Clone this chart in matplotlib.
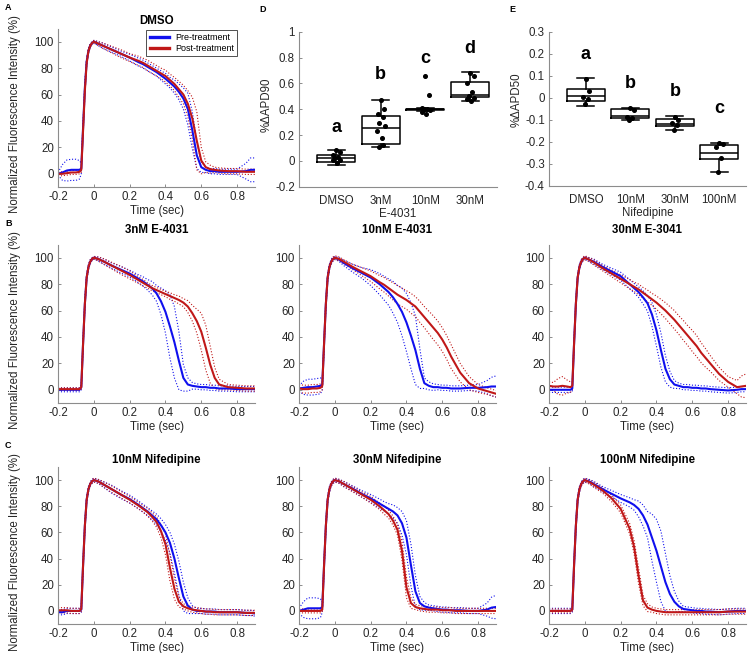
import numpy as np
import matplotlib
matplotlib.use("Agg")
import matplotlib.pyplot as plt

plt.rcParams['font.family'] = ['Liberation Sans', 'DejaVu Sans']
plt.rcParams['axes.unicode_minus'] = False

# ---------------- data: optical action potential traces ----------------
time_s = [-0.2, -0.175, -0.15, -0.125, -0.1, -0.08, -0.07,
          -0.06, -0.05, -0.04, -0.03, -0.02, -0.01, 0.0,
          0.025, 0.05, 0.1, 0.15, 0.2, 0.25, 0.275, 0.3, 0.325, 0.35, 0.375, 0.4,
          0.425, 0.45, 0.475, 0.5, 0.525, 0.55, 0.575, 0.6, 0.625, 0.65, 0.675, 0.7, 0.75, 0.8, 0.85, 0.875, 0.9]

# DMSO
dmso_pre_mean = [0, 1, 2.5, 3, 3, 3, 4,
                 35, 65, 85, 93, 97, 99, 100,
                 98.5, 97, 94, 91, 88, 84.5, 83, 81, 79, 77, 74.5, 72,
                 69, 66, 62, 57, 49, 33, 14, 5, 3, 2, 2, 1.5, 1.5, 1.5, 2, 3, 3]
dmso_pre_sd = [1, 6, 8, 8, 8, 7, 4,
               4, 4, 3, 2, 1.5, 1, 1,
               1.5, 2, 2, 2, 2.5, 3, 3, 3, 3, 3, 3.5, 4,
               4, 5, 6, 8, 12, 14, 10, 4, 2, 2, 2, 2, 2, 2, 6, 9, 9]
dmso_post_mean = [0, 0, 0.5, 1, 1, 1.5, 3,
                  33, 63, 84, 93, 97, 99, 100,
                  98.5, 97, 94, 91, 88, 85.5, 84, 82, 80, 78, 76, 74,
                  71, 68, 64, 60, 53, 42, 25, 10, 5, 3.5, 3, 2.5, 2, 2, 1.5, 1.5, 1.5]
dmso_post_sd = [1.5, 1.5, 1.5, 1.5, 1.5, 1.5, 2,
                4, 4, 3, 2, 1.5, 1, 1,
                1.5, 2, 2.5, 3, 3, 3.5, 3.5, 4, 4, 4, 4, 4.5,
                4.5, 5, 6, 7, 10, 16, 22, 10, 4, 3, 2, 2, 2, 2, 2, 2, 2]

# 3nM E-4031
e3_pre_mean = [0, 0, 0, 0, 0, 0, 2,
               35, 65, 85, 93, 97, 99, 100,
               99, 97.5, 94, 91, 88, 84, 82, 79.5, 77, 73, 67, 59,
               48, 36, 22, 9, 4, 3, 2.5, 2, 2, 1.5, 1.5, 1, 1, 0.5, 0.5, 0.5, 0.5]
e3_pre_sd = [1.5, 1.5, 1.5, 1.5, 1.5, 1.5, 2,
             3, 3, 2, 2, 1.5, 1, 1,
             1.5, 2, 2, 2.5, 2.5, 3, 3.5, 4, 5, 6, 10, 16,
             24, 27, 22, 10, 5, 2.5, 2, 2, 2, 2, 2, 2, 2, 2, 2, 2, 2]
e3_post_mean = [0.5, 0.5, 0.5, 0.5, 0.5, 0.5, 2,
                35, 65, 85, 93, 97, 99, 100,
                99, 97.5, 94, 90.5, 87, 83, 81, 79, 77, 75.5, 74, 72.5,
                71, 69.5, 68, 66, 63, 58, 52, 44, 32, 19, 9, 4, 2, 1.5, 1, 1, 1]
e3_post_sd = [1, 1, 1, 1, 1, 1, 2,
              3, 3, 2, 2, 1.5, 1, 1,
              1.5, 2, 2.5, 3, 3, 2.5, 2.5, 2, 2, 2, 2, 2,
              2.5, 2.5, 3, 3, 4.5, 6, 9, 14, 17, 14, 8, 4, 2, 2, 2, 2, 2]

# 10nM E-4031
e10_pre_mean = [1, 1.5, 2, 2, 2.5, 3, 4,
                35, 65, 85, 93, 97, 99, 100,
                98.5, 96, 92, 88.5, 85, 80, 77, 74, 70, 65, 59, 51,
                41, 30, 16, 5, 3, 2, 2, 1.5, 1.5, 1, 1, 1, 1.5, 1.5, 2, 2.5, 2.5]
e10_pre_sd = [2, 5, 6, 6, 6, 6, 4,
              3, 3, 3, 2, 2, 1.5, 1,
              1.5, 2, 3, 4, 6, 8, 9, 10, 12, 14, 18, 22,
              25, 26, 15, 4, 3, 2.5, 2, 2, 2, 2, 2, 2, 2, 2.5, 5, 7, 8]
e10_post_mean = [1, 0.5, 0.5, 1, 1, 1.5, 3,
                 35, 65, 85, 93, 97, 99, 100,
                 99, 97, 93, 89.5, 86, 81.5, 79.5, 77, 74.5, 72, 70, 68,
                 65.5, 63, 59, 55, 51, 47, 43, 38, 32, 25, 19, 13, 5, 1, -1, -2, -3]
e10_post_sd = [3, 3, 3, 3, 3, 3, 3,
               3, 3, 2, 2, 1.5, 1.5, 1.5,
               1.5, 1.5, 2, 3, 4, 5, 5.5, 6, 6.5, 7, 7, 7,
               7.5, 7.5, 8, 8, 8.5, 9, 9, 9, 9, 9, 8, 7, 5, 3, 2.5, 2.5, 2.5]

# 30nM E-4031
e30_pre_mean = [0, 0, 0, 0, 0, 0, 1,
                35, 65, 85, 93, 97, 99, 100,
                98.5, 97, 93, 89.5, 86, 80, 77, 74, 70, 65.5, 57, 45,
                30, 16, 8, 4, 3, 2, 2, 1.5, 1.5, 1, 1, 0.5, 0, -0.5, 0, 0.5, 0.5]
e30_pre_sd = [2, 2, 2, 2, 2, 2, 2,
              3, 3, 2, 2, 1.5, 1, 1,
              1.5, 2, 2, 2.5, 3, 3.5, 3.5, 4, 5, 6, 9, 12,
              13, 10, 6, 3, 2, 2, 2, 2, 2, 2, 2, 2, 2, 2, 2, 2, 2]
e30_post_mean = [3, 2.5, 2.5, 3, 2.5, 2, 3,
                 35, 65, 85, 93, 97, 99, 100,
                 98.5, 96.5, 92, 88, 84, 80, 78, 76, 73.5, 71, 68.5, 66,
                 63, 60, 56.5, 53, 49, 45, 41, 37, 33, 28, 24, 20, 12, 6, 2, 2.5, 3]
e30_post_sd = [3, 3, 6, 7, 5, 4, 3,
               3, 3, 2, 2, 1.5, 1.5, 1.5,
               1.5, 2, 2, 2.5, 3, 3.5, 3.5, 4, 4, 4.5, 4.5, 5,
               5.5, 6, 6.5, 7, 7, 7.5, 7.5, 8, 8, 7.5, 7, 6, 5, 4, 5, 8, 9]

# 10nM Nifedipine
n10_pre_mean = [-1, -1, 0, 0, 0, 0, 1,
                35, 65, 85, 93, 97, 99, 100,
                99, 97, 93, 89, 85.5, 81, 78.5, 76, 73, 70, 65.5, 60,
                52, 40, 25, 11, 4, 1, 0, 0, -0.5, -0.5, -0.5, -1, -1, -1, -1.5, -1.5, -2]
n10_pre_sd = [2, 2, 2, 2, 2, 2, 2,
              3, 3, 2, 2, 1.5, 1.5, 1.5,
              1.5, 2, 3, 3, 3, 3, 3, 3, 3.5, 4, 5, 6,
              8, 11, 13, 11, 6, 3, 2, 2, 2, 2, 2, 2, 2, 2, 2, 2, 2]
n10_post_mean = [0.5, 0.5, 0.5, 0, 0, 0, 1.5,
                 35, 65, 85, 93, 97, 99, 100,
                 99, 97, 93, 89, 85, 80.5, 78, 75.5, 72, 68, 61, 51,
                 33, 17, 7, 3.5, 2, 1, 0.5, 0, -0.5, -0.5, -1, -1, -1, -1, -1.5, -1.5, -1.5]
n10_post_sd = [2, 2, 2, 2, 2, 2, 2,
               3, 3, 2, 2, 1.5, 1.5, 1.5,
               1.5, 2, 2.5, 2.5, 2.5, 2.5, 2.5, 3, 3, 4, 5, 8,
               10, 8, 4, 2, 2, 2, 2, 2, 2, 2, 2, 2, 2, 2, 2, 2, 2]

# 30nM Nifedipine
n30_pre_mean = [0, 1, 2, 2, 2, 2, 3,
                35, 65, 85, 93, 97, 99, 100,
                99, 97, 93.5, 89.5, 86, 82, 80, 78, 76, 73, 67, 56,
                35, 15, 6, 3.5, 2.5, 2, 1.5, 1, 1, 0.5, 0.5, 0.5, 0, 0, 1, 2.5, 3]
n30_pre_sd = [2, 6, 8, 8, 8, 7, 4,
              3, 3, 2, 2, 1.5, 1.5, 1.5,
              1.5, 2, 2, 2.5, 3, 3.5, 3.5, 4, 5, 6, 9, 13,
              16, 12, 5, 3, 2, 2, 2, 2, 2, 2, 2, 2, 2, 2, 5, 8, 9]
n30_post_mean = [0, 0, 0, 0, 0, 0, 1,
                 35, 65, 85, 93, 97, 99, 100,
                 99, 97, 93, 89, 85, 80, 77, 74, 69, 62, 46, 18,
                 6, 3, 2, 1.5, 1, 1, 1, 0.5, 0.5, 0.5, 0, 0, 0, 0, 0, 0, 0]
n30_post_sd = [1.5, 1.5, 1.5, 1.5, 1.5, 1.5, 1.5,
               3, 3, 2, 2, 1.5, 1.5, 1.5,
               1.5, 2, 2, 2, 2.5, 2.5, 3, 3, 3.5, 4, 7, 8,
               4, 2, 2, 2, 2, 2, 2, 2, 2, 2, 2, 2, 2, 2, 2, 2, 2]

# 100nM Nifedipine
n100_pre_mean = [0, 0, 0, 0, 0, 0, 1,
                 35, 65, 85, 93, 97, 99, 100,
                 99, 97, 93, 89.5, 86, 83, 81, 78, 73, 66, 56, 46,
                 34, 22, 13, 7, 3.5, 1.5, 1, 0.5, 0, 0, -0.5, -0.5, -1, -0.5, 0, 0, 0]
n100_pre_sd = [2, 2, 2, 2, 2, 2, 2,
               3, 3, 2, 2, 1.5, 1.5, 1.5,
               1.5, 2, 2, 2.5, 3, 3.5, 4, 6, 8, 10, 18, 24,
               27, 22, 14, 8, 4, 2, 2, 2, 2, 2, 2, 2, 2, 2, 2, 2, 2]
n100_post_mean = [0, 0, 0, 0, 0, 0, 1,
                  35, 65, 85, 93, 97, 99, 100,
                  98.5, 96.5, 92, 86, 78, 63, 49, 27, 8, 2.5, 1, 0,
                  -0.5, -1, -1, -1, -1, -1, -1, -1, -1, -1, -1, -1, -1, -0.5, -0.5, -0.5, -0.5]
n100_post_sd = [1.5, 1.5, 1.5, 1.5, 1.5, 1.5, 1.5,
                3, 3, 2, 2, 1.5, 1.5, 1.5,
                1.5, 2, 2, 2.5, 3, 4, 5, 6, 4, 3, 2, 2,
                2, 2, 2, 2, 2, 2, 2, 2, 2, 2, 2, 2, 2, 2, 2, 2, 2]

# ---------------- data: box plots ----------------
d_categories = ['DMSO', '3nM', '10nM', '30nM']
d_q1 = [-0.005, 0.128, 0.395, 0.492]
d_med = [0.02, 0.255, 0.40, 0.51]
d_q3 = [0.046, 0.35, 0.405, 0.613]
d_lo = [-0.032, 0.11, 0.385, 0.466]
d_hi = [0.084, 0.47, 0.41, 0.685]
d_points = [[0.084, 0.065, 0.045, 0.03, 0.02, 0.01, 0.005, -0.02],
            [0.47, 0.40, 0.36, 0.34, 0.29, 0.27, 0.23, 0.175, 0.125, 0.11],
            [0.66, 0.51, 0.41, 0.405, 0.40, 0.395, 0.38, 0.36],
            [0.68, 0.66, 0.605, 0.535, 0.50, 0.49, 0.48, 0.465]]
d_letters = ['a', 'b', 'c', 'd']
d_letter_y = [0.26, 0.665, 0.79, 0.87]

e_categories = ['DMSO', '10nM', '30nM', '100nM']
e_q1 = [-0.015, -0.09, -0.127, -0.28]
e_med = [0.01, -0.083, -0.117, -0.252]
e_q3 = [0.04, -0.052, -0.097, -0.215]
e_lo = [-0.035, -0.1, -0.145, -0.338]
e_hi = [0.09, -0.045, -0.083, -0.206]
e_points = [[0.085, 0.03, 0.005, -0.005, -0.03],
            [-0.045, -0.055, -0.085, -0.09, -0.1],
            [-0.085, -0.1, -0.115, -0.125, -0.145],
            [-0.205, -0.21, -0.225, -0.275, -0.338]]
e_letters = ['a', 'b', 'b', 'c']
e_letter_y = [0.198, 0.066, 0.028, -0.05]

# ---------------- figure ----------------
W, H = 749, 653
fig = plt.figure(figsize=(W / 100, H / 100), dpi=100)

SPINE_COL = '#8c8c8c'
TXT_COL = '#262626'
BLUE = '#1010ee'
RED = '#c01818'
FS = 8.3


def add_ax(l, t, r, b):
    return fig.add_axes([l / W, 1 - b / H, (r - l) / W, (b - t) / H])


def base_style(ax):
    for s in ['top', 'right']:
        ax.spines[s].set_visible(False)
    for s in ['left', 'bottom']:
        ax.spines[s].set_color(SPINE_COL)
        ax.spines[s].set_linewidth(0.8)
    ax.tick_params(direction='in', length=2.5, width=0.7, color=SPINE_COL,
                   labelcolor=TXT_COL, labelsize=FS, pad=3.0)


def trace_panel(ax, title, pre_m, pre_s, post_m, post_s, title_pad, ylabel=False):
    t = np.array(time_s)
    groups = [(np.array(pre_m), np.array(pre_s), BLUE), (np.array(post_m), np.array(post_s), RED)]
    for m, s, c in groups:
        ax.plot(t, m + s, ls=':', lw=0.8, color=c)
        ax.plot(t, m - s, ls=':', lw=0.8, color=c)
    h1, = ax.plot(t, groups[0][0], color=BLUE, lw=1.5)
    h2, = ax.plot(t, groups[1][0], color=RED, lw=1.5)
    ax.set_xlim(-0.2, 0.9)
    ax.set_ylim(-10, 110)
    ax.set_xticks([-0.2, 0, 0.2, 0.4, 0.6, 0.8])
    ax.set_xticklabels(['-0.2', '0', '0.2', '0.4', '0.6', '0.8'])
    ax.set_yticks([0, 20, 40, 60, 80, 100])
    base_style(ax)
    ax.set_title(title, fontsize=FS, fontweight='bold', pad=title_pad, color='black')
    ax.set_xlabel('Time (sec)', fontsize=FS, labelpad=1.0, color=TXT_COL)
    if ylabel:
        ax.set_ylabel('Normalized Fluorescence Intensity (%)', fontsize=FS, color=TXT_COL)
        ax.yaxis.set_label_coords(-0.19, 0.46)
    return h1, h2


axA = add_ax(58, 28.5, 255, 187)
h1, h2 = trace_panel(axA, 'DMSO', dmso_pre_mean, dmso_pre_sd, dmso_post_mean, dmso_post_sd, 3.0, True)
leg = axA.legend([h1, h2], ['Pre-treatment', 'Post-treatment'], loc='upper right',
                 bbox_to_anchor=(0.909, 0.99), borderaxespad=0, fontsize=6.5,
                 handlelength=2.2, fancybox=False, framealpha=1, borderpad=0.35,
                 labelspacing=0.2, handletextpad=0.6)
leg.get_frame().set_edgecolor('#333333')
leg.get_frame().set_linewidth(0.6)
for ln in leg.get_lines():
    ln.set_linewidth(2.4)

rowB = (244.5, 403)
rowC = (467, 624)
cols = [(58, 255), (299, 496), (549, 746)]

trace_panel(add_ax(cols[0][0], rowB[0], cols[0][1], rowB[1]), '3nM E-4031',
            e3_pre_mean, e3_pre_sd, e3_post_mean, e3_post_sd, 8.5, True)
trace_panel(add_ax(cols[1][0], rowB[0], cols[1][1], rowB[1]), '10nM E-4031',
            e10_pre_mean, e10_pre_sd, e10_post_mean, e10_post_sd, 8.5)
trace_panel(add_ax(cols[2][0], rowB[0], cols[2][1], rowB[1]), '30nM E-3041',
            e30_pre_mean, e30_pre_sd, e30_post_mean, e30_post_sd, 8.5)

trace_panel(add_ax(cols[0][0], rowC[0], cols[0][1], rowC[1]), '10nM Nifedipine',
            n10_pre_mean, n10_pre_sd, n10_post_mean, n10_post_sd, 3.0, True)
trace_panel(add_ax(cols[1][0], rowC[0], cols[1][1], rowC[1]), '30nM Nifedipine',
            n30_pre_mean, n30_pre_sd, n30_post_mean, n30_post_sd, 3.0)
trace_panel(add_ax(cols[2][0], rowC[0], cols[2][1], rowC[1]), '100nM Nifedipine',
            n100_pre_mean, n100_pre_sd, n100_post_mean, n100_post_sd, 3.0)


def box_panel(ax, cats, q1, med, q3, lo, hi, pts, letters, letter_y, ylim, yticks, ytl, ylabel, xlabel, ylab_y):
    stats = []
    for i in range(len(cats)):
        stats.append(dict(med=med[i], q1=q1[i], q3=q3[i], whislo=lo[i], whishi=hi[i], fliers=[]))
    pos = np.arange(1, len(cats) + 1)
    lp = dict(color='black', linewidth=1.1)
    ax.bxp(stats, positions=pos, widths=0.85, showfliers=False, capwidths=0.38,
           boxprops=lp, medianprops=lp, whiskerprops=lp, capprops=lp)
    jit = [0.0, 0.08, -0.07, 0.04, -0.03, 0.09, -0.08, 0.02, 0.06, -0.05]
    for i, p in enumerate(pts):
        xs = [pos[i] + jit[k % len(jit)] for k in range(len(p))]
        ax.plot(xs, p, 'o', ms=2.6, color='black', zorder=5)
    for i, L in enumerate(letters):
        ax.text(pos[i], letter_y[i], L, ha='center', va='center', fontsize=13, fontweight='bold')
    ax.set_xlim(0.17, 4.6)
    ax.set_ylim(*ylim)
    ax.set_yticks(yticks)
    ax.set_yticklabels(ytl)
    ax.set_xticks(pos)
    ax.set_xticklabels(cats)
    base_style(ax)
    ax.tick_params(axis='x', pad=6, length=0)
    ax.set_ylabel(ylabel, fontsize=FS, color=TXT_COL)
    ax.yaxis.set_label_coords(-0.135, ylab_y)
    ax.set_xlabel(xlabel, fontsize=FS, color=TXT_COL, labelpad=1.0)


axD = add_ax(299, 31.7, 497, 186.7)
box_panel(axD, d_categories, d_q1, d_med, d_q3, d_lo, d_hi, d_points, d_letters, d_letter_y,
          (-0.2, 1.0), [-0.2, 0, 0.2, 0.4, 0.6, 0.8, 1.0],
          ['-0.2', '0', '0.2', '0.4', '0.6', '0.8', '1'], '%\u0394APD90', 'E-4031', 0.53)

axE = add_ax(549, 32, 746, 185.7)
box_panel(axE, e_categories, e_q1, e_med, e_q3, e_lo, e_hi, e_points, e_letters, e_letter_y,
          (-0.4, 0.3), [-0.4, -0.3, -0.2, -0.1, 0, 0.1, 0.2, 0.3],
          ['-0.4', '-0.3', '-0.2', '-0.1', '0', '0.1', '0.2', '0.3'], '%\u0394APD50', 'Nifedipine', 0.56)

# panel letters
for lab, x, y in [('A', 5, 8), ('B', 5, 223), ('C', 5, 446), ('D', 259, 9), ('E', 509, 9)]:
    fig.text(x / W, 1 - y / H, lab, fontsize=6.5, fontweight='bold', ha='left', va='center')

fig.savefig('out.png', dpi=100)
